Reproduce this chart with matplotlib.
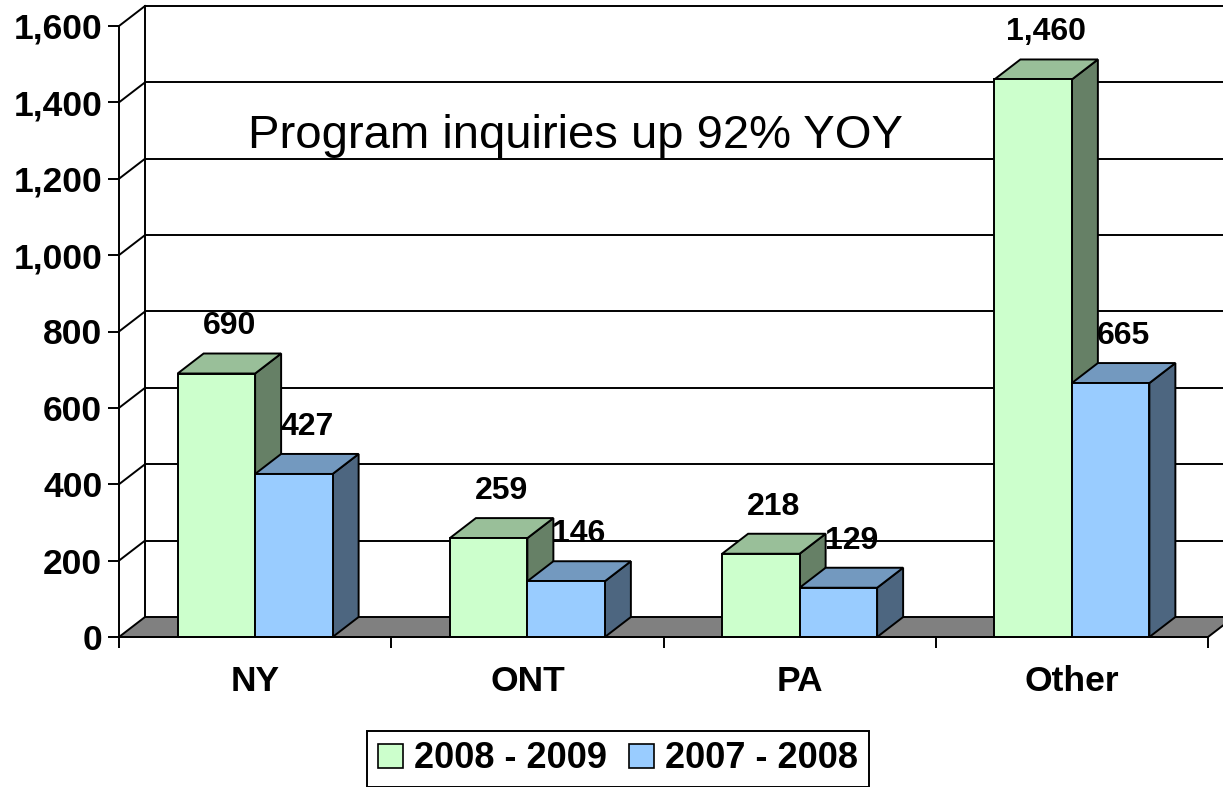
import numpy as np
import matplotlib.pyplot as plt
from matplotlib.patches import Polygon, Patch

plt.rcParams['font.family'] = ['Liberation Sans', 'DejaVu Sans']

# -------------------------
#          Data
# -------------------------

categories = ['NY', 'ONT', 'PA', 'Other']
inq_0809 = [690, 259, 218, 1460]
inq_0708 = [427, 146, 129, 665]
series_labels = ['2008 - 2009', '2007 - 2008']
y_ticks = [0, 200, 400, 600, 800, 1000, 1200, 1400, 1600]
note = 'Program inquiries up 92% YOY'

# face colours: front, top, side
colors = [('#CCFFCC', '#99BF99', '#668066'),
          ('#99CCFF', '#7399BF', '#4D6680')]

W, H = 1223, 787
fig = plt.figure(figsize=(W / 100, H / 100), dpi=100)
ax = fig.add_axes([119 / W, 1 - 637 / H, (1208 - 119) / W, (637 - 26) / H])
ax.set_facecolor('none')

n = len(categories)
ymax = y_ticks[-1]
ax.set_xlim(0, n)
ax.set_ylim(0, ymax)

# depth of the 3d box, in data units
ax_w = (1208 - 119)
ax_h = (637 - 26)
dx = 26 / ax_w * n
dy = 20 / ax_h * ymax

# -------------------------
#      Walls and floor
# -------------------------

lk = dict(color='black', lw=1.4, clip_on=False, zorder=1)
for v in y_ticks[1:]:
   ax.plot([0, dx], [v, v + dy], **lk)
   ax.plot([dx, n + dx], [v + dy, v + dy], **lk)
ax.plot([dx, dx], [dy, ymax + dy], **lk)

floor = Polygon([(0, 0), (n, 0), (n + dx, dy), (dx, dy)], closed=True,
   facecolor='#808080', edgecolor='black', lw=1.4, clip_on=False, zorder=2)
ax.add_patch(floor)

# -------------------------
#           Bars
# -------------------------

bw = 77.5 / ax_w * n
z = 3
for i in range(n):
   c = i + 0.5
   for j, vals in enumerate([inq_0809, inq_0708]):
      v = vals[i]
      x0 = c - bw + j * bw
      x1 = x0 + bw
      front, top, side = colors[j]
      faces = [
         ([(x1, 0), (x1 + dx, dy), (x1 + dx, v + dy), (x1, v)], side),
         ([(x0, v), (x1, v), (x1 + dx, v + dy), (x0 + dx, v + dy)], top),
         ([(x0, 0), (x1, 0), (x1, v), (x0, v)], front),
      ]
      for pts, fc in faces:
         ax.add_patch(Polygon(pts, closed=True, facecolor=fc, edgecolor='black',
            lw=1.4, clip_on=False, zorder=z))
      z += 1
      ax.annotate(f'{v:,}', (x0 + bw / 2 + dx / 2, v + dy), xytext=(0, 19.5),
         textcoords='offset points', ha='center', va='center',
         fontsize=23, fontweight='bold', zorder=50, annotation_clip=False)

# -------------------------
#           Axes
# -------------------------

ax.spines['top'].set_visible(False)
ax.spines['right'].set_visible(False)
ax.spines['left'].set_linewidth(1.4)
ax.spines['bottom'].set_linewidth(1.4)
ax.spines['left'].set_zorder(40)
ax.spines['bottom'].set_zorder(40)

ax.set_yticks(y_ticks)
ax.set_yticklabels([f'{v:,}' for v in y_ticks], fontsize=25.5, fontweight='bold')
ax.tick_params(axis='y', length=8, width=1.4, pad=4)

ax.set_xticks(np.arange(n + 1))
ax.set_xticklabels([])
ax.tick_params(axis='x', which='major', length=8, width=1.4, direction='out')
ax.set_xticks(np.arange(n) + 0.5, minor=True)
ax.set_xticklabels(categories, minor=True, fontsize=25.5, fontweight='bold')
ax.tick_params(axis='x', which='minor', length=0, pad=20)

ax.text((576 - 119) / ax_w, (637 - 136) / ax_h, note, transform=ax.transAxes,
   ha='center', va='center', fontsize=34, zorder=60)

handles = [Patch(facecolor=colors[j][0], edgecolor='black', lw=1.2) for j in range(2)]
leg = fig.legend(handles, series_labels, loc='center', bbox_to_anchor=(618 / W, 1 - 759 / H),
   ncol=2, prop=dict(size=26, weight='bold'), handlelength=0.69, handleheight=0.65,
   handletextpad=0.32, columnspacing=0.6, borderpad=0.3, borderaxespad=0,
   fancybox=False, framealpha=1)
leg.get_frame().set_edgecolor('black')
leg.get_frame().set_linewidth(1.4)

plt.savefig('out.png', dpi=100)
